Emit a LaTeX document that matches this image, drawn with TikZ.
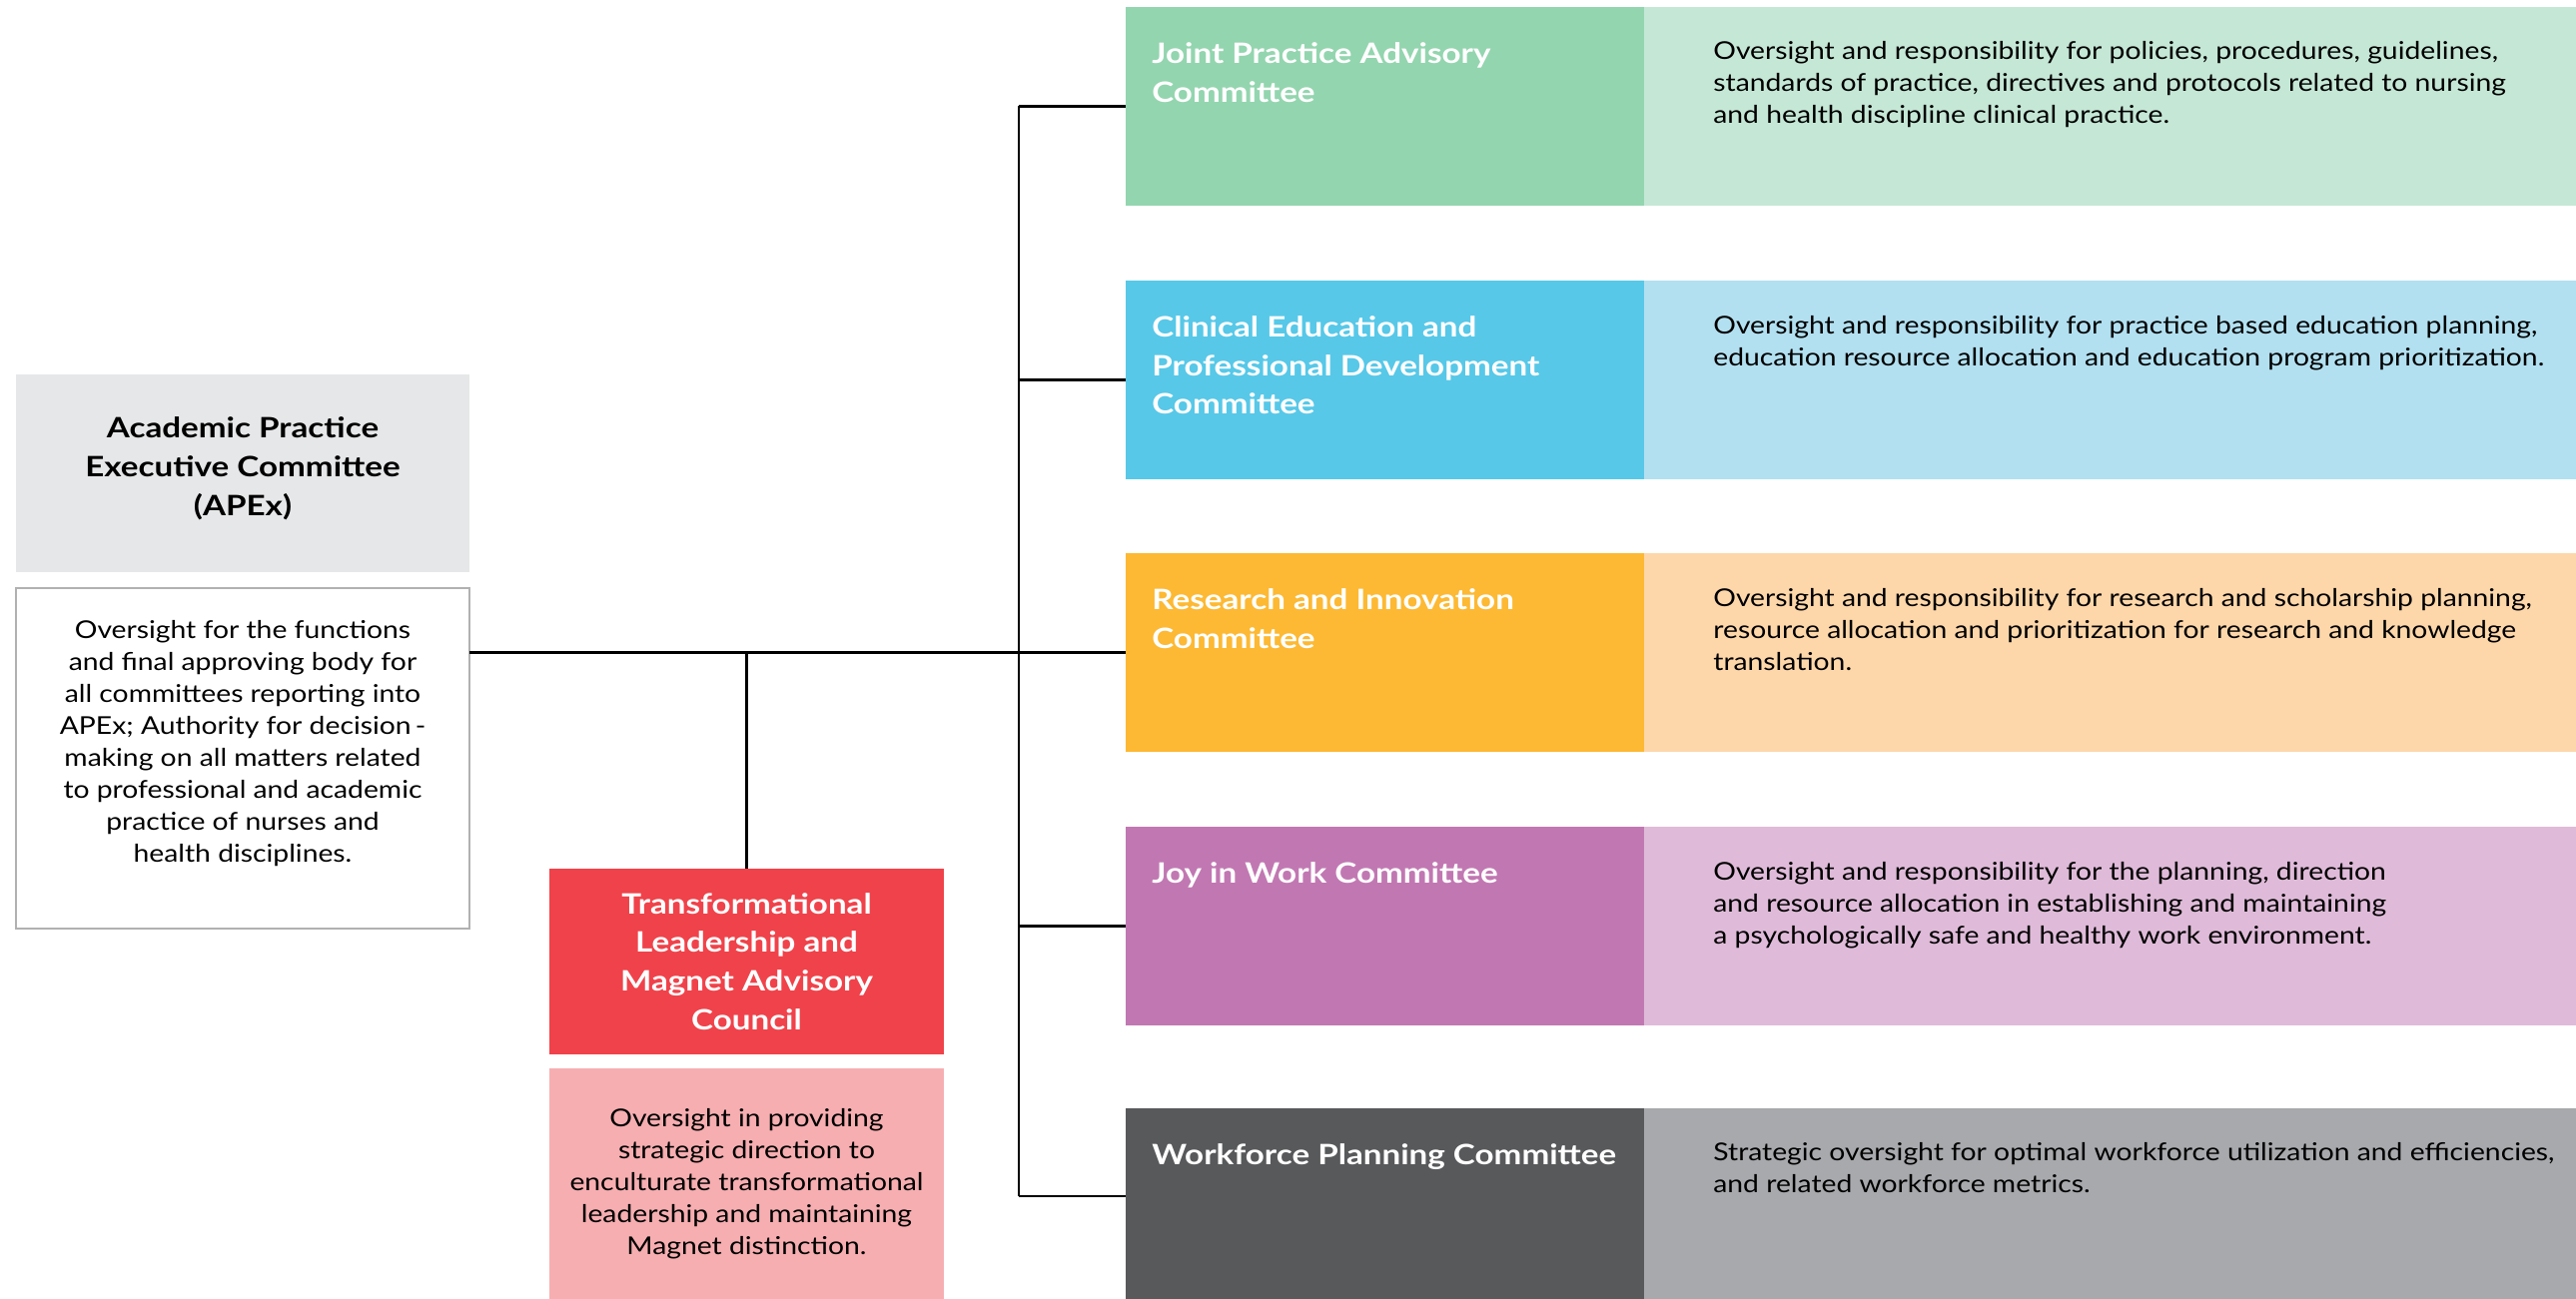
\documentclass[tikz,border=0pt]{standalone}
\usepackage{fontspec}
\setmainfont{Lato}[FakeStretch=1.15]
\newfontfamily\latotit{Lato}[FakeStretch=1.18]
\usetikzlibrary{calc,positioning}

\definecolor{apexgrigio}{HTML}{E6E7E8}
\definecolor{bordogrigio}{HTML}{B1B1B1}
\definecolor{rosso}{HTML}{F0424A}
\definecolor{rosa}{HTML}{F6AEB1}
\definecolor{verde}{HTML}{93D5AF}
\definecolor{verdechiaro}{HTML}{C5E7D6}
\definecolor{azzurro}{HTML}{57C8E8}
\definecolor{azzurrochiaro}{HTML}{B2E0F0}
\definecolor{arancio}{HTML}{FDB933}
\definecolor{aranciochiaro}{HTML}{FDD7AA}
\definecolor{viola}{HTML}{C178B2}
\definecolor{violachiaro}{HTML}{DFBBD9}
\definecolor{antracite}{HTML}{58595B}
\definecolor{grigiochiaro}{HTML}{A7A9AC}

\begin{document}
\begin{tikzpicture}[x=0.02cm,y=-0.02cm,
  box/.style={inner sep=0pt,outer sep=0pt,anchor=north west},
  titolo/.style={font=\fontsize{16}{22.1}\selectfont\latotit\bfseries},
  testo/.style={font=\fontsize{14}{18.2}\selectfont},
  comitato/.style={box,fill=#1,minimum width=519*0.02cm,minimum height=199*0.02cm},
  descr/.style={box,fill=#1,minimum width=934*0.02cm,minimum height=199*0.02cm},
  scritta/.style={inner sep=0pt,anchor=north west,align=left},
  linea/.style={line width=1.2pt,black}]

\useasboundingbox (0,0) rectangle (2579,1301);

% APEx
\node[box,fill=apexgrigio,minimum width=454*0.02cm,minimum height=198*0.02cm] (apex) at (16,375) {};
\node[titolo,inner sep=0pt,align=center] (apext) at ($(apex.center)+(0,-5)$)
  {Academic Practice\\Executive Committee\\(APEx)};
\node[box,draw=bordogrigio,line width=1.5pt,fill=white,
  minimum width=454*0.02cm,minimum height=341*0.02cm] (apexd) at (16,589) {};
\node[testo,inner sep=0pt,anchor=north,align=center] (apexdt) at ($(apexd.north)+(0,32)$)
  {Oversight for the functions\\and final approving body for\\all committees reporting into\\
   APEx; Authority for decision\,-\\making on all matters related\\to professional and academic\\
   practice of nurses and\\health disciplines.};

% council
\node[box,fill=rosso,minimum width=395*0.02cm,minimum height=186*0.02cm,
  titolo,text=white,align=center] (tlmac) at (550,870)
  {Transformational\\Leadership and\\Magnet Advisory\\Council};
\node[box,fill=rosa,minimum width=395*0.02cm,minimum height=231*0.02cm,
  testo,align=center] (tlmacd) at (550,1070)
  {Oversight in providing\\strategic direction to\\enculturate transformational\\
   leadership and maintaining\\Magnet distinction.};

% committees
\node[comitato=verde] (jpac) at (1127,7) {};
\node[descr=verdechiaro] (jpacd) at (1646,7) {};
\node[scritta,titolo,text=white] at ($(jpac.north west)+(26,35)$) {Joint Practice Advisory\\Committee};
\node[scritta,testo] at ($(jpacd.north west)+(69,34)$)
  {Oversight and responsibility for policies, procedures, guidelines,\\
   standards of practice, directives and protocols related to nursing\\
   and health discipline clinical practice.};

\node[comitato=azzurro] (cepd) at (1127,281) {};
\node[descr=azzurrochiaro] (cepdd) at (1646,281) {};
\node[scritta,titolo,text=white] at ($(cepd.north west)+(26,35)$)
  {Clinical Education and\\Professional Development\\Committee};
\node[scritta,testo] at ($(cepdd.north west)+(69,35)$)
  {Oversight and responsibility for practice based education planning,\\
   education resource allocation and education program prioritization.};

\node[comitato=arancio] (rinn) at (1127,554) {};
\node[descr=aranciochiaro] (rinnd) at (1646,554) {};
\node[scritta,titolo,text=white] at ($(rinn.north west)+(26,35)$) {Research and Innovation\\Committee};
\node[scritta,testo] at ($(rinnd.north west)+(69,35)$)
  {Oversight and responsibility for research and scholarship planning,\\
   resource allocation and prioritization for research and knowledge\\
   translation.};

\node[comitato=viola] (jwc) at (1127,828) {};
\node[descr=violachiaro] (jwcd) at (1646,828) {};
\node[scritta,titolo,text=white] at ($(jwc.north west)+(26,35)$) {Joy in Work Committee};
\node[scritta,testo] at ($(jwcd.north west)+(69,35)$)
  {Oversight and responsibility for the planning, direction\\
   and resource allocation in establishing and maintaining\\
   a psychologically safe and healthy work environment.};

\node[comitato=antracite] (wpc) at (1127,1110) {};
\node[descr=grigiochiaro] (wpcd) at (1646,1110) {};
\node[scritta,titolo,text=white] at ($(wpc.north west)+(26,35)$) {Workforce Planning Committee};
\node[scritta,testo] at ($(wpcd.north west)+(69,34)$)
  {Strategic oversight for optimal workforce utilization and efficiencies,\\
   and related workforce metrics.};

% connettori
\coordinate (bus) at (1020,0);
\coordinate (wpcin) at ($(wpc.north west)+(0,88)$);
\draw[linea] (apexd.east |- rinn.west) -- (rinn.west);
\draw[linea] (tlmac.north |- rinn.west) -- (tlmac.north);
\draw[linea] (bus |- jpac.west) -- (bus |- wpcin);
\draw[linea] (bus |- jpac.west) -- (jpac.west);
\draw[linea] (bus |- cepd.west) -- (cepd.west);
\draw[linea] (bus |- jwc.west) -- (jwc.west);
\draw[linea] (bus |- wpcin) -- (wpcin);
%\draw[linea] (bus |- rinn.west) -- (rinn.west);

\end{tikzpicture}
\end{document}
